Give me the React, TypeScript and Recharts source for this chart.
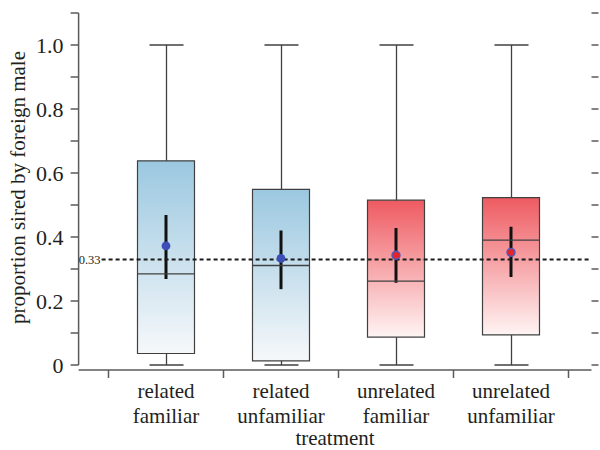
import { ComposedChart, Bar, Scatter, XAxis, YAxis, ReferenceLine, Cell } from 'recharts'

// treatments, in order along the x axis
const positions = [1, 2, 3, 4]
const labelTop = ['related', 'related', 'unrelated', 'unrelated']
const labelBottom = ['familiar', 'unfamiliar', 'familiar', 'unfamiliar']

// box plot summaries
const whiskerLow = [0, 0, 0, 0]
const whiskerHigh = [1, 1, 1, 1]
const q1 = [0.036, 0.013, 0.087, 0.094]
const q3 = [0.638, 0.549, 0.515, 0.523]
const median = [0.285, 0.311, 0.262, 0.39]
const mean = [0.372, 0.333, 0.343, 0.352]
const ciLow = [0.269, 0.237, 0.257, 0.275]
const ciHigh = [0.469, 0.42, 0.428, 0.432]

const chance = 0.33
const yTicks = [0, 0.1, 0.2, 0.3, 0.4, 0.5, 0.6, 0.7, 0.8, 0.9, 1.0, 1.1]
const boundaries = [0.5, 1.5, 2.5, 3.5, 4.5]

const data = positions.map((pos, i) => ({
  pos,
  whisker: [whiskerLow[i], whiskerHigh[i]],
  box: [q1[i], q3[i]],
  median: median[i],
  mean: mean[i],
  ci: [ciLow[i], ciHigh[i]],
}))

const X_DOMAIN: [number, number] = [0.24, 4.7]
const Y_DOMAIN: [number, number] = [-0.0156, 1.1125]
const FONT = "'Liberation Serif', 'Times New Roman', serif"
const TEXT = '#231f20'
const AXIS = '#5a5a5a'
const LINE = '#404040'
const BOX_W = 57

const isRelated = (i: number) => labelTop[i] === 'related'

function WhiskerShape(props: any) {
  const { x, y, width, height } = props
  const cx = x + width / 2
  return (
    <g stroke={LINE} strokeWidth={1.3}>
      <line x1={cx} y1={y} x2={cx} y2={y + height} />
      <line x1={x} y1={y} x2={x + width} y2={y} />
      <line x1={x} y1={y + height} x2={x + width} y2={y + height} />
    </g>
  )
}

function MedianShape(props: any) {
  const { cx, cy } = props
  return <line x1={cx - BOX_W / 2} x2={cx + BOX_W / 2} y1={cy} y2={cy} stroke={LINE} strokeWidth={1.3} />
}

function MeanDot(props: any) {
  const { cx, cy, payload } = props
  const i = positions.indexOf(payload.pos)
  if (isRelated(i)) return <circle cx={cx} cy={cy} r={4.4} fill="#3b4fb6" />
  return <circle cx={cx} cy={cy} r={4} fill="#e5232b" stroke="#4a5ac0" strokeWidth={1.4} />
}

function BottomTick(props: any) {
  const { x, y, payload } = props
  const i = positions.indexOf(payload.value)
  if (i < 0) return <line x1={x} y1={y} x2={x} y2={y + 8} stroke={AXIS} strokeWidth={1.5} />
  return (
    <text textAnchor="middle" fontFamily={FONT} fontSize={21} fill={TEXT}>
      <tspan x={x} y={y + 28}>{labelTop[i]}</tspan>
      <tspan x={x} y={y + 53}>{labelBottom[i]}</tspan>
    </text>
  )
}

const yLabel = (v: number) => {
  const k = Math.round(v * 10)
  if (k % 2 !== 0) return ''
  return k === 0 ? '0' : v.toFixed(1)
}

function LeftTick(props: any) {
  const { x, y, payload } = props
  return (
    <text x={x} y={y} dy={7.5} textAnchor="end" fontFamily={FONT} fontSize={22} fill={TEXT}>
      {yLabel(payload.value)}
    </text>
  )
}

function YTitle(props: any) {
  const { viewBox } = props
  const x = viewBox.x + 24.5
  const y = viewBox.y + viewBox.height / 2 - 2
  return (
    <text x={x} y={y} transform={`rotate(-90, ${x}, ${y})`} textAnchor="middle" fontFamily={FONT} fontSize={21} fill={TEXT}>
      proportion sired by foreign male
    </text>
  )
}

export default function App() {
  return (
    <div style={{ position: 'absolute', left: 0, top: 0, width: 600, height: 450, background: '#fff' }}>
      <ComposedChart width={600} height={450} data={data} margin={{ top: 9, right: 0, bottom: 0, left: 0 }}>
        <defs>
          <linearGradient id="gBlue" x1="0" y1="0" x2="0" y2="1">
            <stop offset="0%" stopColor="#9bc8e0" />
            <stop offset="100%" stopColor="#f6f8fa" />
          </linearGradient>
          <linearGradient id="gRed" x1="0" y1="0" x2="0" y2="1">
            <stop offset="0%" stopColor="#ee5b61" />
            <stop offset="100%" stopColor="#fff4f4" />
          </linearGradient>
        </defs>

        <XAxis
          xAxisId="b"
          type="number"
          dataKey="pos"
          domain={X_DOMAIN}
          allowDataOverflow
          ticks={[0.5, 1, 1.5, 2, 2.5, 3, 3.5, 4, 4.5]}
          interval={0}
          tickSize={0}
          tickMargin={0}
          tickLine={false}
          tick={<BottomTick />}
          height={80}
          axisLine={{ stroke: AXIS, strokeWidth: 1.5 }}
          label={{
            value: 'treatment',
            position: 'insideBottom',
            offset: 5,
            fontSize: 21,
            fill: TEXT,
            fontFamily: FONT,
          }}
        />
        <XAxis
          xAxisId="top"
          orientation="top"
          type="number"
          dataKey="pos"
          domain={X_DOMAIN}
          allowDataOverflow
          ticks={boundaries}
          interval={0}
          mirror
          tickSize={7}
          tickFormatter={() => ''}
          height={0}
          axisLine={{ stroke: AXIS, strokeWidth: 1.5 }}
          tickLine={{ stroke: AXIS, strokeWidth: 1.5 }}
        />
        <XAxis xAxisId="w" type="number" dataKey="pos" domain={X_DOMAIN} allowDataOverflow hide />
        <XAxis xAxisId="box" type="number" dataKey="pos" domain={X_DOMAIN} allowDataOverflow hide />
        <XAxis xAxisId="ci" type="number" dataKey="pos" domain={X_DOMAIN} allowDataOverflow hide />

        <YAxis
          yAxisId="l"
          domain={Y_DOMAIN}
          allowDataOverflow
          ticks={yTicks}
          interval={0}
          width={78.6}
          tickSize={8}
          tickMargin={7}
          axisLine={false}
          tickLine={{ stroke: AXIS, strokeWidth: 1.5 }}
          tick={<LeftTick />}
          label={<YTitle />}
        />
        <YAxis
          yAxisId="r"
          orientation="right"
          domain={Y_DOMAIN}
          allowDataOverflow
          ticks={yTicks}
          interval={0}
          width={8.5}
          tickSize={7}
          axisLine={false}
          tickLine={{ stroke: AXIS, strokeWidth: 1.5 }}
          tickFormatter={() => ''}
        />

        <ReferenceLine
          xAxisId="b"
          yAxisId="l"
          segment={[{ x: X_DOMAIN[0], y: 0 }, { x: X_DOMAIN[0], y: 1.1 }]}
          stroke={AXIS}
          strokeWidth={1.5}
          ifOverflow="visible"
        />

        <Bar xAxisId="w" yAxisId="l" dataKey="whisker" barSize={34} shape={<WhiskerShape />} isAnimationActive={false} />
        <Bar xAxisId="box" yAxisId="l" dataKey="box" barSize={BOX_W} stroke={LINE} strokeWidth={1.2} isAnimationActive={false}>
          {data.map((_, i) => (
            <Cell key={i} fill={isRelated(i) ? 'url(#gBlue)' : 'url(#gRed)'} />
          ))}
        </Bar>
        <Scatter xAxisId="b" yAxisId="l" dataKey="median" shape={<MedianShape />} isAnimationActive={false} />
        <ReferenceLine
          xAxisId="b"
          yAxisId="l"
          segment={[{ x: 0.44, y: chance }, { x: X_DOMAIN[1], y: chance }]}
          stroke="#1a1a1a"
          strokeWidth={2}
          strokeDasharray="4 3"
          ifOverflow="visible"
          label={{ value: '0.33', position: 'left', offset: 1, fontSize: 12.5, fill: TEXT, fontFamily: FONT }}
        />
        <Bar xAxisId="ci" yAxisId="l" dataKey="ci" barSize={3} fill="#111" isAnimationActive={false} />
        <Scatter xAxisId="b" yAxisId="l" dataKey="mean" shape={<MeanDot />} isAnimationActive={false} />
      </ComposedChart>
    </div>
  )
}
